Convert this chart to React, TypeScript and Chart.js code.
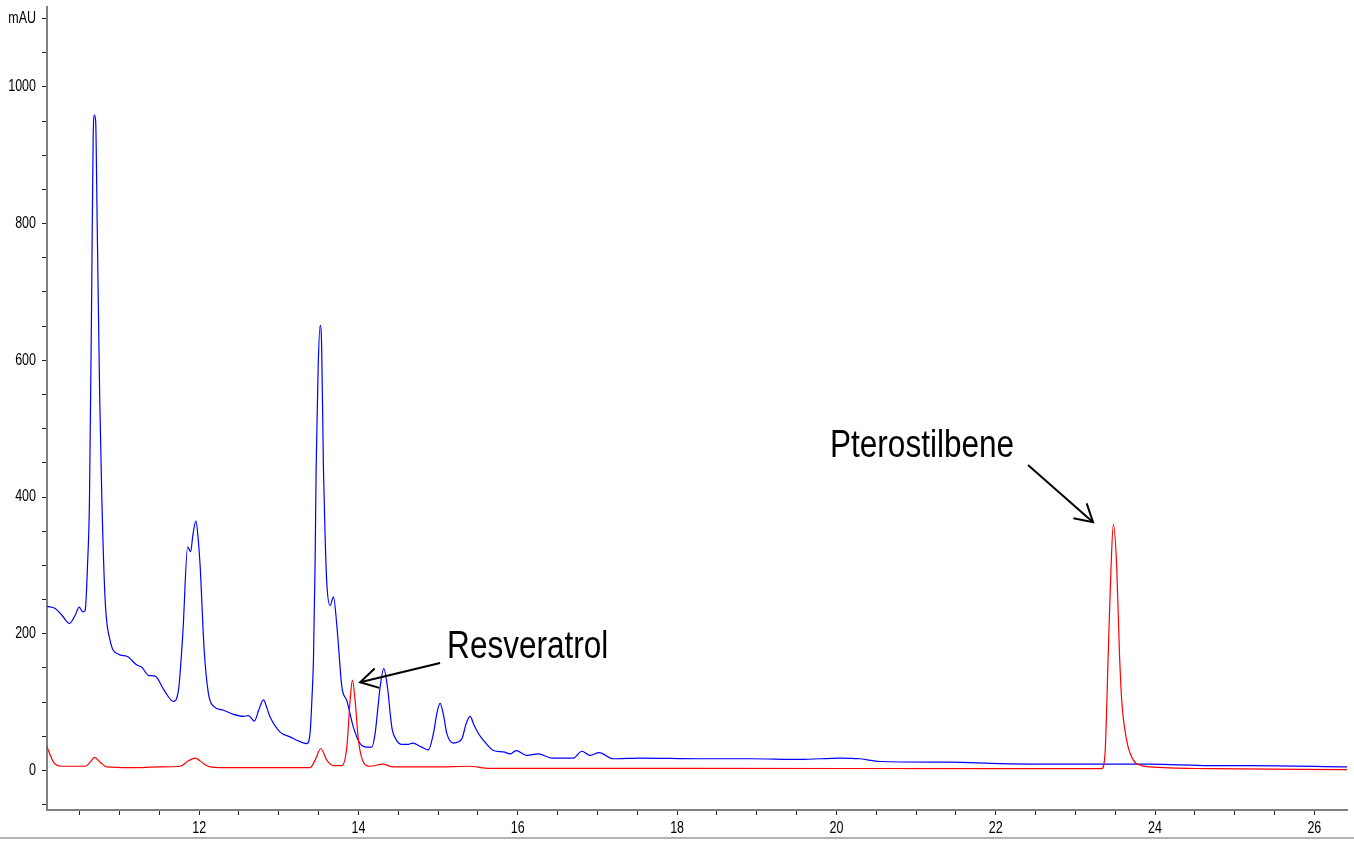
import React, { useEffect, useRef } from "react";
import { Chart, registerables } from "chart.js";

Chart.register(...registerables);

// Retention time (min) and absorbance (mAU) – blue trace
const BLUE_T = [
  10.092, 10.193, 10.277, 10.372, 10.444, 10.494, 10.54, 10.569, 10.598, 10.623,
  10.651, 10.67, 10.686, 10.701, 10.72, 10.751, 10.779, 10.82, 10.883, 10.987,
  11.093, 11.218, 11.281, 11.364, 11.448, 11.552, 11.677, 11.74, 11.795, 11.856,
  11.893, 11.922, 11.96, 11.987, 12.013, 12.063, 12.117, 12.179, 12.305, 12.431,
  12.556, 12.619, 12.694, 12.747, 12.807, 12.854, 12.891, 13.017, 13.142, 13.268,
  13.352, 13.393, 13.418, 13.435, 13.456, 13.469, 13.494, 13.519, 13.538, 13.56,
  13.582, 13.603, 13.644, 13.686, 13.73, 13.792, 13.854, 13.937, 14.021, 14.105,
  14.168, 14.209, 14.247, 14.272, 14.318, 14.364, 14.419, 14.473, 14.544, 14.623,
  14.677, 14.795, 14.878, 14.941, 14.987, 15.025, 15.069, 15.109, 15.192, 15.297,
  15.351, 15.401, 15.452, 15.506, 15.569, 15.694, 15.82, 15.904, 15.979, 16.113,
  16.259, 16.427, 16.698, 16.804, 16.908, 17.021, 17.2, 17.535, 18.288, 18.916,
  19.544, 20.046, 20.297, 20.548, 21.426, 22.054, 23.309, 23.937, 24.69, 25.192,
  26.41,
];
const BLUE_V = [
  240, 237, 227, 215, 227, 239, 232, 234, 298, 395,
  700, 930, 959, 950, 800, 550, 395, 249, 190, 170,
  167, 154, 151, 139, 138, 119, 101, 117, 200, 327,
  320, 345, 365, 340, 298, 176, 112, 94, 88, 82,
  79, 80, 72, 88, 103, 90, 78, 56, 49, 42,
  39, 55, 110, 161, 307, 444, 590, 651, 620, 444,
  340, 273, 241, 254, 210, 122, 102, 63, 39, 34,
  34, 54, 95, 122, 149, 122, 63, 45, 38, 38,
  40, 34, 30, 54, 85, 98, 80, 54, 40, 46,
  68, 79, 66, 54, 44, 29, 27, 24, 29, 22,
  24, 18, 18, 28, 22, 26, 17, 18, 17, 17,
  16, 18, 17, 13, 12, 10, 9, 9, 7, 7,
  5,
];

// Red trace
const RED_T = [
  10.092, 10.171, 10.277, 10.569, 10.632, 10.686, 10.757, 10.841, 11.134, 11.51,
  11.762, 11.866, 11.95, 12.054, 12.138, 12.264, 12.975, 13.393, 13.456, 13.527,
  13.603, 13.686, 13.791, 13.854, 13.895, 13.924, 13.958, 14.0, 14.062, 14.146,
  14.306, 14.439, 14.984, 15.38, 15.653, 18.288, 22.054, 23.331, 23.372, 23.414,
  23.448, 23.477, 23.519, 23.552, 23.582, 23.644, 23.728, 23.833, 23.937, 24.69,
  26.41,
];
const RED_V = [
  34, 12, 6, 6, 12, 19, 12, 5, 4, 5,
  6, 14, 18, 10, 5, 4, 4, 4, 15, 32,
  15, 7, 7, 34, 102, 132, 102, 44, 12, 6,
  9, 5, 5, 6, 3, 3, 2.5, 2.5, 24, 176,
  298, 360, 298, 176, 102, 44, 15, 7, 5, 2.5,
  1,
];

const X_TICKS = [
  10.5, 11, 11.5, 12, 12.5, 13, 13.5, 14, 14.5, 15, 15.5, 16, 16.5, 17, 17.5, 18,
  18.5, 19, 19.5, 20, 20.5, 21, 21.5, 22, 22.5, 23, 23.5, 24, 24.5, 25, 25.5, 26,
];
const X_LABELED = [12, 14, 16, 18, 20, 22, 24, 26];
const Y_TICKS = [
  -50, 0, 50, 100, 150, 200, 250, 300, 350, 400, 450, 500, 550, 600, 650, 700,
  750, 800, 850, 900, 950, 1000, 1050, 1100,
];
const Y_LABELED = [0, 200, 400, 600, 800, 1000];
const Y_UNIT_VALUE = 1100;
const Y_UNIT = "mAU";

const X_MIN = 10.09;
const X_MAX = 26.41;
const Y_MIN = -58;
const Y_MAX = 1117;

// Annotations in data coordinates
const ANNOT_TEXT = ["Resveratrol", "Pterostilbene"];
const ANNOT_TEXT_X = [15.113, 19.92];
const ANNOT_TEXT_Y = [165, 458];
const ARROW_FROM_X = [15.025, 22.405];
const ARROW_FROM_Y = [157, 447];
const ARROW_TO_X = [14.021, 23.222];
const ARROW_TO_Y = [129, 363];

const FONT = '"Liberation Sans", Arial, sans-serif';
const SQUEEZE_TICK = 0.78;
const SQUEEZE_ANNOT = 0.83;

function xLabel(v: number) {
  return X_LABELED.includes(v) ? String(v) : "";
}
function yLabel(v: number) {
  if (v === Y_UNIT_VALUE) return Y_UNIT;
  return Y_LABELED.includes(v) ? String(v) : "";
}

const labelPlugin = {
  id: "chromLabels",
  afterDraw(chart: any) {
    const { ctx } = chart;
    const xs = chart.scales.x;
    const ys = chart.scales.y;
    ctx.save();
    ctx.fillStyle = "#000";
    ctx.strokeStyle = "#000";

    // tick labels (narrow, like the instrument software)
    ctx.font = `16px ${FONT}`;
    ctx.textBaseline = "middle";
    ctx.textAlign = "center";
    for (const t of X_TICKS) {
      const s = xLabel(t);
      if (!s) continue;
      ctx.save();
      ctx.translate(xs.getPixelForValue(t), xs.top + 19);
      ctx.scale(SQUEEZE_TICK, 1);
      ctx.fillText(s, 0, 0);
      ctx.restore();
    }
    ctx.textAlign = "right";
    for (const t of Y_TICKS) {
      const s = yLabel(t);
      if (!s) continue;
      ctx.save();
      ctx.translate(chart.chartArea.left - 11, ys.getPixelForValue(t));
      ctx.scale(SQUEEZE_TICK, 1);
      ctx.fillText(s, 0, 0);
      ctx.restore();
    }

    // annotations
    ctx.font = `38px ${FONT}`;
    ctx.textAlign = "left";
    ctx.textBaseline = "alphabetic";
    for (let i = 0; i < ANNOT_TEXT.length; i++) {
      ctx.save();
      ctx.translate(xs.getPixelForValue(ANNOT_TEXT_X[i]), ys.getPixelForValue(ANNOT_TEXT_Y[i]));
      ctx.scale(SQUEEZE_ANNOT, 1);
      ctx.fillText(ANNOT_TEXT[i], 0, 0);
      ctx.restore();
      const x1 = xs.getPixelForValue(ARROW_FROM_X[i]);
      const y1 = ys.getPixelForValue(ARROW_FROM_Y[i]);
      const x2 = xs.getPixelForValue(ARROW_TO_X[i]);
      const y2 = ys.getPixelForValue(ARROW_TO_Y[i]);
      ctx.lineWidth = 2;
      ctx.beginPath();
      ctx.moveTo(x1, y1);
      ctx.lineTo(x2, y2);
      ctx.stroke();
      const ang = Math.atan2(y1 - y2, x1 - x2);
      const len = 20;
      const spread = Math.PI / 6;
      ctx.beginPath();
      ctx.moveTo(x2 + len * Math.cos(ang - spread), y2 + len * Math.sin(ang - spread));
      ctx.lineTo(x2, y2);
      ctx.lineTo(x2 + len * Math.cos(ang + spread), y2 + len * Math.sin(ang + spread));
      ctx.stroke();
    }

    // bottom frame line
    ctx.strokeStyle = "#9a9a9a";
    ctx.lineWidth = 1.5;
    ctx.beginPath();
    ctx.moveTo(0, chart.height - 3);
    ctx.lineTo(chart.width, chart.height - 3);
    ctx.stroke();
    ctx.restore();
  },
};

export default function App() {
  const ref = useRef<HTMLCanvasElement | null>(null);

  useEffect(() => {
    if (!ref.current) return;
    const chart = new Chart(ref.current, {
      type: "line",
      data: {
        datasets: [
          {
            label: "Standard",
            data: RED_T.map((t, i) => ({ x: t, y: RED_V[i] })),
            borderColor: "#ff0000",
            borderWidth: 1.2,
            pointRadius: 0,
            fill: false,
            cubicInterpolationMode: "monotone",
          },
          {
            label: "Sample",
            data: BLUE_T.map((t, i) => ({ x: t, y: BLUE_V[i] })),
            borderColor: "#0000ff",
            borderWidth: 1.2,
            pointRadius: 0,
            fill: false,
            cubicInterpolationMode: "monotone",
          },
        ],
      },
      options: {
        animation: false,
        responsive: false,
        events: [],
        layout: { padding: { top: 7, right: 7, left: 0, bottom: 0 } },
        plugins: { legend: { display: false }, tooltip: { enabled: false } },
        scales: {
          x: {
            type: "linear",
            min: X_MIN,
            max: X_MAX,
            afterBuildTicks: (s: any) => {
              s.ticks = X_TICKS.map((v) => ({ value: v }));
            },
            afterFit: (s: any) => {
              s.height = 31;
            },
            grid: { drawOnChartArea: false, drawTicks: true, tickLength: 5, tickColor: "#222", tickWidth: 1 },
            border: { display: true, color: "#808080", width: 2 },
            ticks: { display: false, autoSkip: false, maxRotation: 0 },
          },
          y: {
            type: "linear",
            min: Y_MIN,
            max: Y_MAX,
            afterBuildTicks: (s: any) => {
              s.ticks = Y_TICKS.map((v) => ({ value: v }));
            },
            afterFit: (s: any) => {
              s.width = 47;
            },
            grid: { drawOnChartArea: false, drawTicks: true, tickLength: 5, tickColor: "#222", tickWidth: 1 },
            border: { display: true, color: "#808080", width: 2 },
            ticks: { display: false, autoSkip: false },
          },
        },
      },
      plugins: [labelPlugin],
    });
    return () => chart.destroy();
  }, []);

  return (
    <div style={{ position: "absolute", left: 0, top: 0, width: 1354, height: 841, background: "#fff" }}>
      <canvas ref={ref} width={1354} height={841} style={{ display: "block", width: 1354, height: 841 }} />
    </div>
  );
}
